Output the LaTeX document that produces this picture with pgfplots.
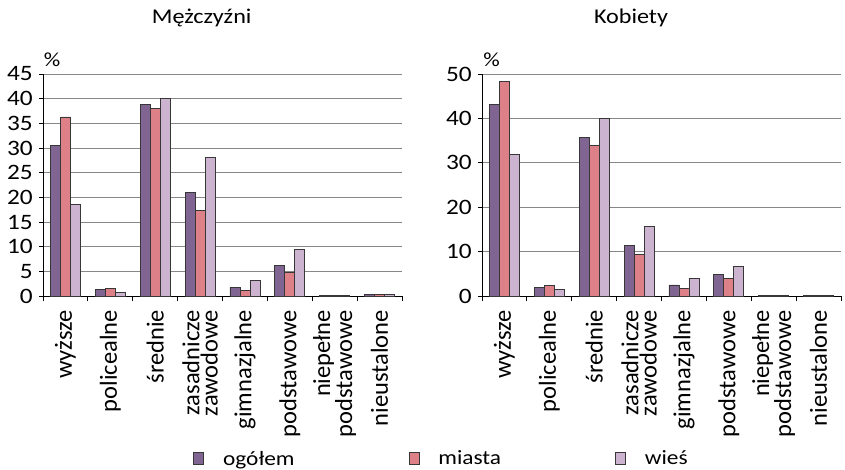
\documentclass[border=0pt]{standalone}
\usepackage{pgfplots}
\pgfplotsset{compat=1.18}
\usepackage{fontspec}
\setmainfont{Carlito}[FakeStretch=1.15]
\newfontfamily\rotfont{Carlito}
\definecolor{cOg}{RGB}{128,100,146}
\definecolor{cMi}{RGB}{222,128,136}
\definecolor{cWi}{RGB}{204,180,208}
\definecolor{cGrid}{RGB}{135,135,135}
\definecolor{cEdge}{RGB}{55,55,55}
\pgfplotsset{
  mybars/.style={
    scale only axis, width=359pt, height=222pt,
    ybar=0pt, bar width=10pt,
    xmin=-0.5, xmax=7.5, ymin=0,
    enlarge y limits=false,
    axis x line*=bottom, axis y line*=left,
    axis line style={black, line width=0.8pt},
    xtick={0,...,7},
    xticklabels={wyższe,policealne,średnie,{zasadnicze\\zawodowe},gimnazjalne,podstawowe,{niepełne\\podstawowe},nieustalone},
    major x tick style={draw=none},
    minor xtick={-0.5,0.5,...,7.5},
    minor x tick style={black, line width=0.8pt},
    minor tick length=5pt,
    tick align=outside,
    major tick length=4pt,
    ytick style={black, line width=0.8pt},
    ymajorgrids, grid style={cGrid, line width=0.9pt},
    xticklabel style={rotate=90, anchor=east, inner sep=0pt, outer sep=0pt, align=right,
      font=\rotfont\fontsize{24.5pt}{17pt}\selectfont},
    xticklabel shift=10pt,
    yticklabel style={inner sep=0pt, font=\fontsize{22pt}{22pt}\selectfont},
    yticklabel shift=6pt,
    /pgf/number format/assume math mode=true,
    every axis plot/.append style={draw=cEdge, line width=0.8pt},
    legend image code/.code={\draw[#1, draw=cEdge, line width=0.8pt] (0pt,-6pt) rectangle (10pt,6pt);},
  }
}
\begin{document}
\begin{tikzpicture}
\path[use as bounding box] (0pt,0pt) rectangle (845pt,469pt);
\begin{axis}[mybars, at={(43pt,173pt)}, anchor=south west,
  ymax=45, ytick={0,5,...,45},
  legend columns=3,
  legend style={draw=none, fill=none, inner sep=0pt,
    at={(axis description cs:0.418,-0.733)}, anchor=west,
    nodes={inner sep=0pt}, font=\fontsize{20.3pt}{20.3pt}\selectfont,
    /tikz/every odd column/.append style={column sep=19pt},
    /tikz/every even column/.append style={column sep=114pt}},
  legend cell align=left]
\addplot[fill=cOg] coordinates {(0,30.6) (1,1.3) (2,38.8) (3,20.9) (4,1.8) (5,6.2) (6,0.1) (7,0.3)};
\addplot[fill=cMi] coordinates {(0,36.3) (1,1.5) (2,38.1) (3,17.4) (4,1.2) (5,4.7) (6,0.1) (7,0.35)};
\addplot[fill=cWi] coordinates {(0,18.5) (1,0.8) (2,40.0) (3,28.1) (4,3.1) (5,9.4) (6,0.05) (7,0.25)};
\legend{ogółem,miasta,wieś}
\end{axis}
\begin{axis}[mybars, at={(482pt,173pt)}, anchor=south west,
  ymax=50, ytick={0,10,...,50}]
\addplot[fill=cOg] coordinates {(0,43.1) (1,2.0) (2,35.8) (3,11.3) (4,2.5) (5,4.8) (6,0.05) (7,0.15)};
\addplot[fill=cMi] coordinates {(0,48.4) (1,2.3) (2,33.9) (3,9.3) (4,1.7) (5,3.9) (6,0.05) (7,0.15)};
\addplot[fill=cWi] coordinates {(0,31.9) (1,1.4) (2,39.9) (3,15.6) (4,4.0) (5,6.6) (6,0.05) (7,0.1)};
\end{axis}
\node[anchor=base, inner sep=0pt, font=\fontsize{21pt}{21pt}\selectfont] at (201.7pt,445pt) {Mężczyźni};
\node[anchor=base, inner sep=0pt, font=\fontsize{21pt}{21pt}\selectfont] at (631pt,445pt) {Kobiety};
\node[anchor=base, inner sep=0pt, font=\fontsize{20pt}{20pt}\selectfont] at (52pt,402.3pt) {\%};
\node[anchor=base, inner sep=0pt, font=\fontsize{20pt}{20pt}\selectfont] at (491.5pt,402.3pt) {\%};
\end{tikzpicture}
\end{document}
